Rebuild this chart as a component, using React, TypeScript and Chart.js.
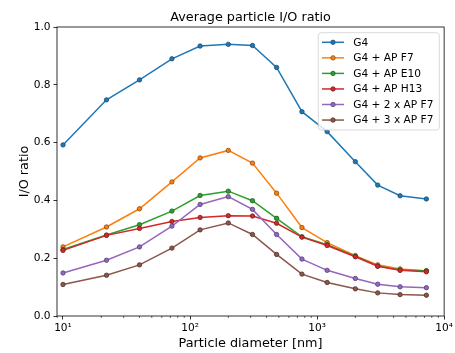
import React, { useEffect, useRef } from 'react';
import { Chart, registerables } from 'chart.js';

Chart.register(...registerables);

const chartTitle = 'Average particle I/O ratio';
const xAxisLabel = 'Particle diameter [nm]';
const yAxisLabel = 'I/O ratio';

const diameters = [10, 22, 40, 72, 120, 200, 310, 480, 760, 1200, 2000, 3000, 4500, 7250];

const seriesNames = ['G4', 'G4 + AP F7', 'G4 + AP E10', 'G4 + AP H13', 'G4 + 2 x AP F7', 'G4 + 3 x AP F7'];
const g4 = [0.592, 0.748, 0.817, 0.89, 0.934, 0.94, 0.936, 0.86, 0.707, 0.638, 0.534, 0.453, 0.416, 0.405];
const g4F7 = [0.239, 0.308, 0.371, 0.464, 0.547, 0.573, 0.529, 0.425, 0.306, 0.254, 0.209, 0.177, 0.163, 0.156];
const g4E10 = [0.23, 0.28, 0.316, 0.363, 0.417, 0.432, 0.399, 0.338, 0.274, 0.247, 0.207, 0.173, 0.159, 0.157];
const g4H13 = [0.227, 0.279, 0.303, 0.327, 0.341, 0.347, 0.346, 0.321, 0.273, 0.244, 0.205, 0.172, 0.158, 0.153];
const g4x2F7 = [0.149, 0.193, 0.239, 0.311, 0.386, 0.413, 0.369, 0.282, 0.197, 0.158, 0.13, 0.11, 0.101, 0.098];
const g4x3F7 = [0.109, 0.141, 0.177, 0.235, 0.298, 0.322, 0.282, 0.213, 0.145, 0.116, 0.094, 0.08, 0.074, 0.072];
const seriesValues = [g4, g4F7, g4E10, g4H13, g4x2F7, g4x3F7];

const colors = ['#1f77b4', '#ff7f0e', '#2ca02c', '#d62728', '#9467bd', '#8c564b'];
const edgeColors = ['#1a4d75', '#8a4a10', '#1d5e1d', '#7a2020', '#55407a', '#503029'];

const xMajorTicks = [10, 100, 1000, 10000];
const xMajorLabels = ['10¹', '10²', '10³', '10⁴'];
const xMinorTicks = [9, 20, 30, 40, 50, 60, 70, 80, 90, 200, 300, 400, 500, 600, 700, 800, 900, 2000, 3000, 4000, 5000, 6000, 7000, 8000, 9000];
const yTicks = [0, 0.2, 0.4, 0.6, 0.8, 1.0];

const FONT = '"DejaVu Sans", sans-serif';

const decorPlugin = {
  id: 'decor',
  afterDatasetsDraw(chart: any) {
    const { ctx, chartArea } = chart;
    const { left, right, top, bottom } = chartArea;
    ctx.save();
    ctx.strokeStyle = '#000';
    ctx.lineWidth = 0.8;
    ctx.strokeRect(left, top, right - left, bottom - top);
    // minor ticks on x
    const xs = chart.scales.x;
    ctx.beginPath();
    xMinorTicks.forEach((v) => {
      const px = xs.getPixelForValue(v);
      if (px >= left - 0.5 && px <= right + 0.5) {
        ctx.moveTo(px, bottom);
        ctx.lineTo(px, bottom + 2);
      }
    });
    ctx.lineWidth = 0.6;
    ctx.stroke();
    ctx.restore();
  },
  afterDraw(chart: any) {
    const { ctx, chartArea } = chart;
    const { left, right, top, bottom } = chartArea;
    ctx.save();
    ctx.fillStyle = '#000';
    // title
    ctx.font = `12.8px ${FONT}`;
    ctx.textAlign = 'center';
    ctx.textBaseline = 'alphabetic';
    ctx.fillText(chartTitle, (left + right) / 2, 20.5);
    // x label
    ctx.fillText(xAxisLabel, (left + right) / 2, 347.3);
    // y label
    ctx.save();
    ctx.translate(28, (top + bottom) / 2);
    ctx.rotate(-Math.PI / 2);
    ctx.fillText(yAxisLabel, 0, 0);
    ctx.restore();

    // legend
    const bx = 318.3, by = 32.7, bw = 121, bh = 97.3, r = 3;
    ctx.beginPath();
    ctx.moveTo(bx + r, by);
    ctx.lineTo(bx + bw - r, by);
    ctx.quadraticCurveTo(bx + bw, by, bx + bw, by + r);
    ctx.lineTo(bx + bw, by + bh - r);
    ctx.quadraticCurveTo(bx + bw, by + bh, bx + bw - r, by + bh);
    ctx.lineTo(bx + r, by + bh);
    ctx.quadraticCurveTo(bx, by + bh, bx, by + bh - r);
    ctx.lineTo(bx, by + r);
    ctx.quadraticCurveTo(bx, by, bx + r, by);
    ctx.closePath();
    ctx.fillStyle = 'rgba(255,255,255,0.8)';
    ctx.fill();
    ctx.strokeStyle = '#d0d0d0';
    ctx.lineWidth = 0.8;
    ctx.stroke();

    ctx.font = `10.6px ${FONT}`;
    ctx.textAlign = 'left';
    ctx.textBaseline = 'middle';
    seriesNames.forEach((name, i) => {
      const y = 42.3 + i * 15.55;
      ctx.strokeStyle = colors[i];
      ctx.lineWidth = 1.5;
      ctx.beginPath();
      ctx.moveTo(322, y);
      ctx.lineTo(344, y);
      ctx.stroke();
      ctx.beginPath();
      ctx.arc(333, y, 2.2, 0, Math.PI * 2);
      ctx.fillStyle = colors[i];
      ctx.fill();
      ctx.strokeStyle = edgeColors[i];
      ctx.lineWidth = 0.8;
      ctx.stroke();
      ctx.fillStyle = '#000';
      ctx.fillText(name, 353.3, y + 0.5);
    });
    ctx.restore();
  },
};

export default function App() {
  const canvasRef = useRef<HTMLCanvasElement | null>(null);

  useEffect(() => {
    if (!canvasRef.current) return;
    const datasets = seriesNames.map((name, i) => ({
      label: name,
      data: diameters.map((d, j) => ({ x: d, y: seriesValues[i][j] })),
      borderColor: colors[i],
      backgroundColor: colors[i],
      borderWidth: 1.5,
      pointRadius: 2.2,
      pointBorderWidth: 0.8,
      pointBackgroundColor: colors[i],
      pointBorderColor: edgeColors[i],
      tension: 0,
      fill: false,
      order: -i,
    }));

    const tickFont = { family: FONT, size: 10.6 };

    const chart = new Chart(canvasRef.current, {
      type: 'line',
      data: { datasets },
      options: {
        responsive: false,
        animation: false,
        events: [],
        layout: { padding: { top: 27, right: 10, left: 0, bottom: 0 } },
        plugins: {
          legend: { display: false },
          title: { display: false },
          tooltip: { enabled: false },
        },
        scales: {
          x: {
            type: 'logarithmic',
            min: 8.97,
            max: 10000,
            afterBuildTicks: (scale: any) => {
              scale.ticks = xMajorTicks.map((v) => ({ value: v }));
            },
            afterFit: (scale: any) => {
              scale.height = 37;
            },
            ticks: {
              autoSkip: false,
              maxRotation: 0,
              minRotation: 0,
              padding: 2,
              color: '#000',
              font: tickFont,
              callback: (_v: any, index: number) => xMajorLabels[index],
            },
            grid: {
              display: true,
              drawOnChartArea: false,
              drawTicks: true,
              tickLength: 3.5,
              tickWidth: 0.8,
              tickColor: '#000',
            },
            border: { display: false },
          },
          y: {
            type: 'linear',
            min: 0,
            max: 1,
            afterBuildTicks: (scale: any) => {
              scale.ticks = yTicks.map((v) => ({ value: v }));
            },
            afterFit: (scale: any) => {
              scale.width = 57;
            },
            ticks: {
              padding: 3,
              color: '#000',
              font: tickFont,
              callback: (v: any) => Number(v).toFixed(1),
            },
            grid: {
              display: true,
              drawOnChartArea: false,
              drawTicks: true,
              tickLength: 3.5,
              tickWidth: 0.8,
              tickColor: '#000',
            },
            border: { display: false },
          },
        },
      },
      plugins: [decorPlugin],
    } as any);

    return () => {
      chart.destroy();
    };
  }, []);

  return (
    <div style={{ position: 'fixed', left: 0, top: 0, width: 455, height: 353, background: '#fff' }}>
      <canvas ref={canvasRef} width={455} height={353} style={{ display: 'block', width: 455, height: 353 }} />
    </div>
  );
}
